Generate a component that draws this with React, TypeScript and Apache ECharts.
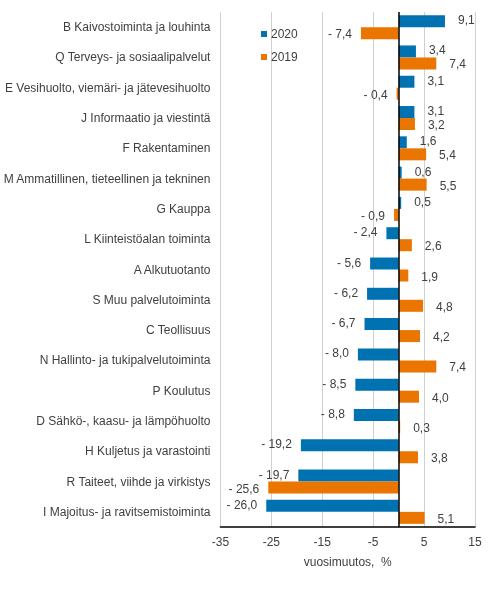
import React, { useEffect, useRef } from "react";
import * as echarts from "echarts";

const categories = [
  "B Kaivostoiminta ja louhinta",
  "Q Terveys- ja sosiaalipalvelut",
  "E Vesihuolto, viemäri- ja jätevesihuolto",
  "J Informaatio ja viestintä",
  "F Rakentaminen",
  "M Ammatillinen, tieteellinen ja tekninen",
  "G Kauppa",
  "L Kiinteistöalan toiminta",
  "A Alkutuotanto",
  "S Muu palvelutoiminta",
  "C Teollisuus",
  "N Hallinto- ja tukipalvelutoiminta",
  "P Koulutus",
  "D Sähkö-, kaasu- ja lämpöhuolto",
  "H Kuljetus ja varastointi",
  "R Taiteet, viihde ja virkistys",
  "I Majoitus- ja ravitsemistoiminta",
];

const values2020 = [9.1, 3.4, 3.1, 3.1, 1.6, 0.6, 0.5, -2.4, -5.6, -6.2, -6.7, -8.0, -8.5, -8.8, -19.2, -19.7, -26.0];
const values2019 = [-7.4, 7.4, -0.4, 3.2, 5.4, 5.5, -0.9, 2.6, 1.9, 4.8, 4.2, 7.4, 4.0, 0.3, 3.8, -25.6, 5.1];

const xTicks = [-35, -25, -15, -5, 5, 15];

const FONT = "'Liberation Sans', Arial, sans-serif";
const TEXT = "#404040";

function fmt(v: number): string {
  const s = Math.abs(v).toFixed(1).replace(".", ",");
  return v < 0 ? "- " + s : s;
}

function makeData(vals: number[], dy: number) {
  return vals.map((v) => ({
    value: v,
    label: {
      position: v < 0 ? "left" : "right",
      distance: v < 0 ? 9 : 13,
      offset: [0, dy],
    },
  }));
}

export default function App() {
  const ref = useRef<HTMLDivElement>(null);
  useEffect(() => {
    if (!ref.current) return;
    const chart = echarts.init(ref.current, undefined, { renderer: "svg" });
    const labelCommon = {
      show: true,
      formatter: (p: any) => fmt(p.value),
      color: TEXT,
      fontSize: 12,
      lineHeight: 12,
      fontFamily: FONT,
    };
    chart.setOption({
      animation: false,
      textStyle: { fontFamily: FONT },
      grid: { left: 220, right: 18, top: 12, bottom: 79, containLabel: false },
      legend: {
        orient: "vertical",
        left: 256,
        top: 23,
        itemWidth: 6,
        itemHeight: 6,
        itemGap: 11,
        icon: "rect",
        textStyle: { color: TEXT, fontSize: 12, fontFamily: FONT, padding: [0, 0, 0, -1] },
        data: ["2020", "2019"],
      },
      xAxis: {
        type: "value",
        min: xTicks[0],
        max: xTicks[xTicks.length - 1],
        interval: 10,
        axisLine: { show: true, lineStyle: { color: "#000", width: 1.5 } },
        axisTick: { show: false },
        axisLabel: { color: TEXT, fontSize: 12, fontFamily: FONT, margin: 9 },
        splitLine: { show: true, lineStyle: { color: "#d0d0d0", width: 1 } },
        name: "vuosimuutos,  %",
        nameLocation: "middle",
        nameGap: 29,
        nameTextStyle: { color: TEXT, fontSize: 12, fontFamily: FONT },
      },
      yAxis: {
        type: "category",
        data: categories,
        inverse: true,
        axisLine: { show: false },
        axisTick: { show: false },
        axisLabel: { color: TEXT, fontSize: 12, fontFamily: FONT, margin: 10 },
      },
      series: [
        {
          name: "2020",
          type: "bar",
          data: makeData(values2020, -1),
          barWidth: 12,
          barGap: "0%",
          itemStyle: { color: "#0072B2" },
          label: labelCommon,
          markLine: {
            silent: true,
            symbol: "none",
            label: { show: false },
            lineStyle: { color: "#000", width: 1.5, type: "solid" },
            data: [{ xAxis: 0 }],
          },
        },
        {
          name: "2019",
          type: "bar",
          data: makeData(values2019, 1),
          barWidth: 12,
          barGap: "0%",
          itemStyle: { color: "#EA7500" },
          label: labelCommon,
        },
      ],
    });
    return () => chart.dispose();
  }, []);
  return (
    <div
      ref={ref}
      style={{ position: "fixed", left: 0, top: 0, width: 493, height: 606 }}
    />
  );
}
